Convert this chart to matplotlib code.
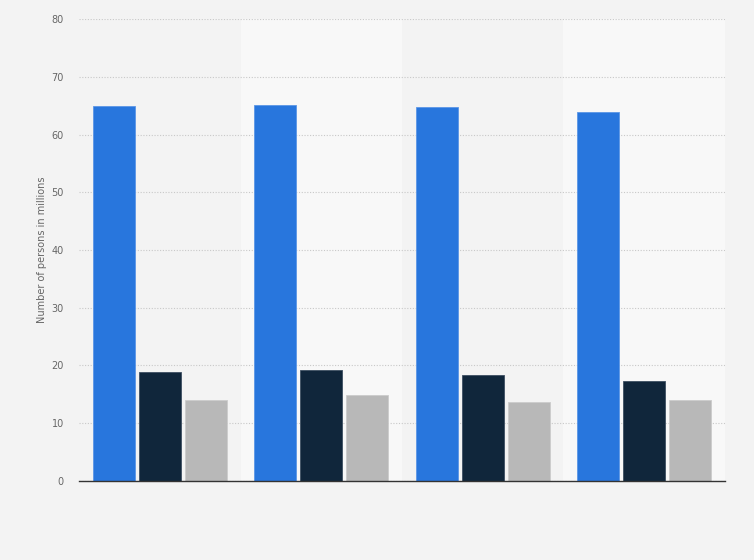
import numpy as np
import matplotlib.pyplot as plt

# four groups (x labels are not shown in the reference)
groups = ["A", "B", "C", "D"]
series_a = [64.9, 65.1, 64.8, 63.9]   # blue
series_b = [18.8, 19.3, 18.4, 17.3]   # navy
series_c = [14.0, 14.9, 13.6, 14.0]   # grey
yticks = [0, 10, 20, 30, 40, 50, 60, 70, 80]

colors = ["#2876dd", "#10263b", "#b8b8b8"]
edges = ["#5b96e6", "#3d4f62", "#cccccc"]

fig = plt.figure(figsize=(7.54, 5.6), dpi=100, facecolor="#f3f3f3")
ax = fig.add_axes([0.1048, 0.1411, 0.8567, 0.8249])
ax.set_facecolor("#f3f3f3")

x = np.arange(len(groups))
for i in range(len(groups)):
    if i % 2 == 1:
        ax.axvspan(i - 0.5, i + 0.5, color="#f8f8f8", zorder=0, lw=0)

w = 0.26
step = 0.285
for k, vals in enumerate([series_a, series_b, series_c]):
    ax.bar(x + (k - 1) * step, vals, width=w, color=colors[k],
           edgecolor=edges[k], linewidth=0.6, zorder=3)

ax.set_xlim(-0.5, len(groups) - 0.5)
ax.set_ylim(0, 80)
ax.set_yticks(yticks)
ax.set_yticklabels([str(t) for t in yticks], color="#666666", fontsize=7)
ax.set_xticks([])
ax.tick_params(axis="y", length=0, pad=11)
ax.yaxis.grid(True, linestyle=(0, (1, 1.5)), color="#c8c8c8", linewidth=0.8, zorder=1)
ax.set_axisbelow(True)
for s in ["top", "right", "left"]:
    ax.spines[s].set_visible(False)
ax.spines["bottom"].set_color("#333333")
ax.spines["bottom"].set_linewidth(1.0)
ax.spines["bottom"].set_zorder(4)

ax.set_ylabel("Number of persons in millions", color="#666666", fontsize=7, labelpad=3)

fig.savefig("out.png", dpi=100, facecolor=fig.get_facecolor())
